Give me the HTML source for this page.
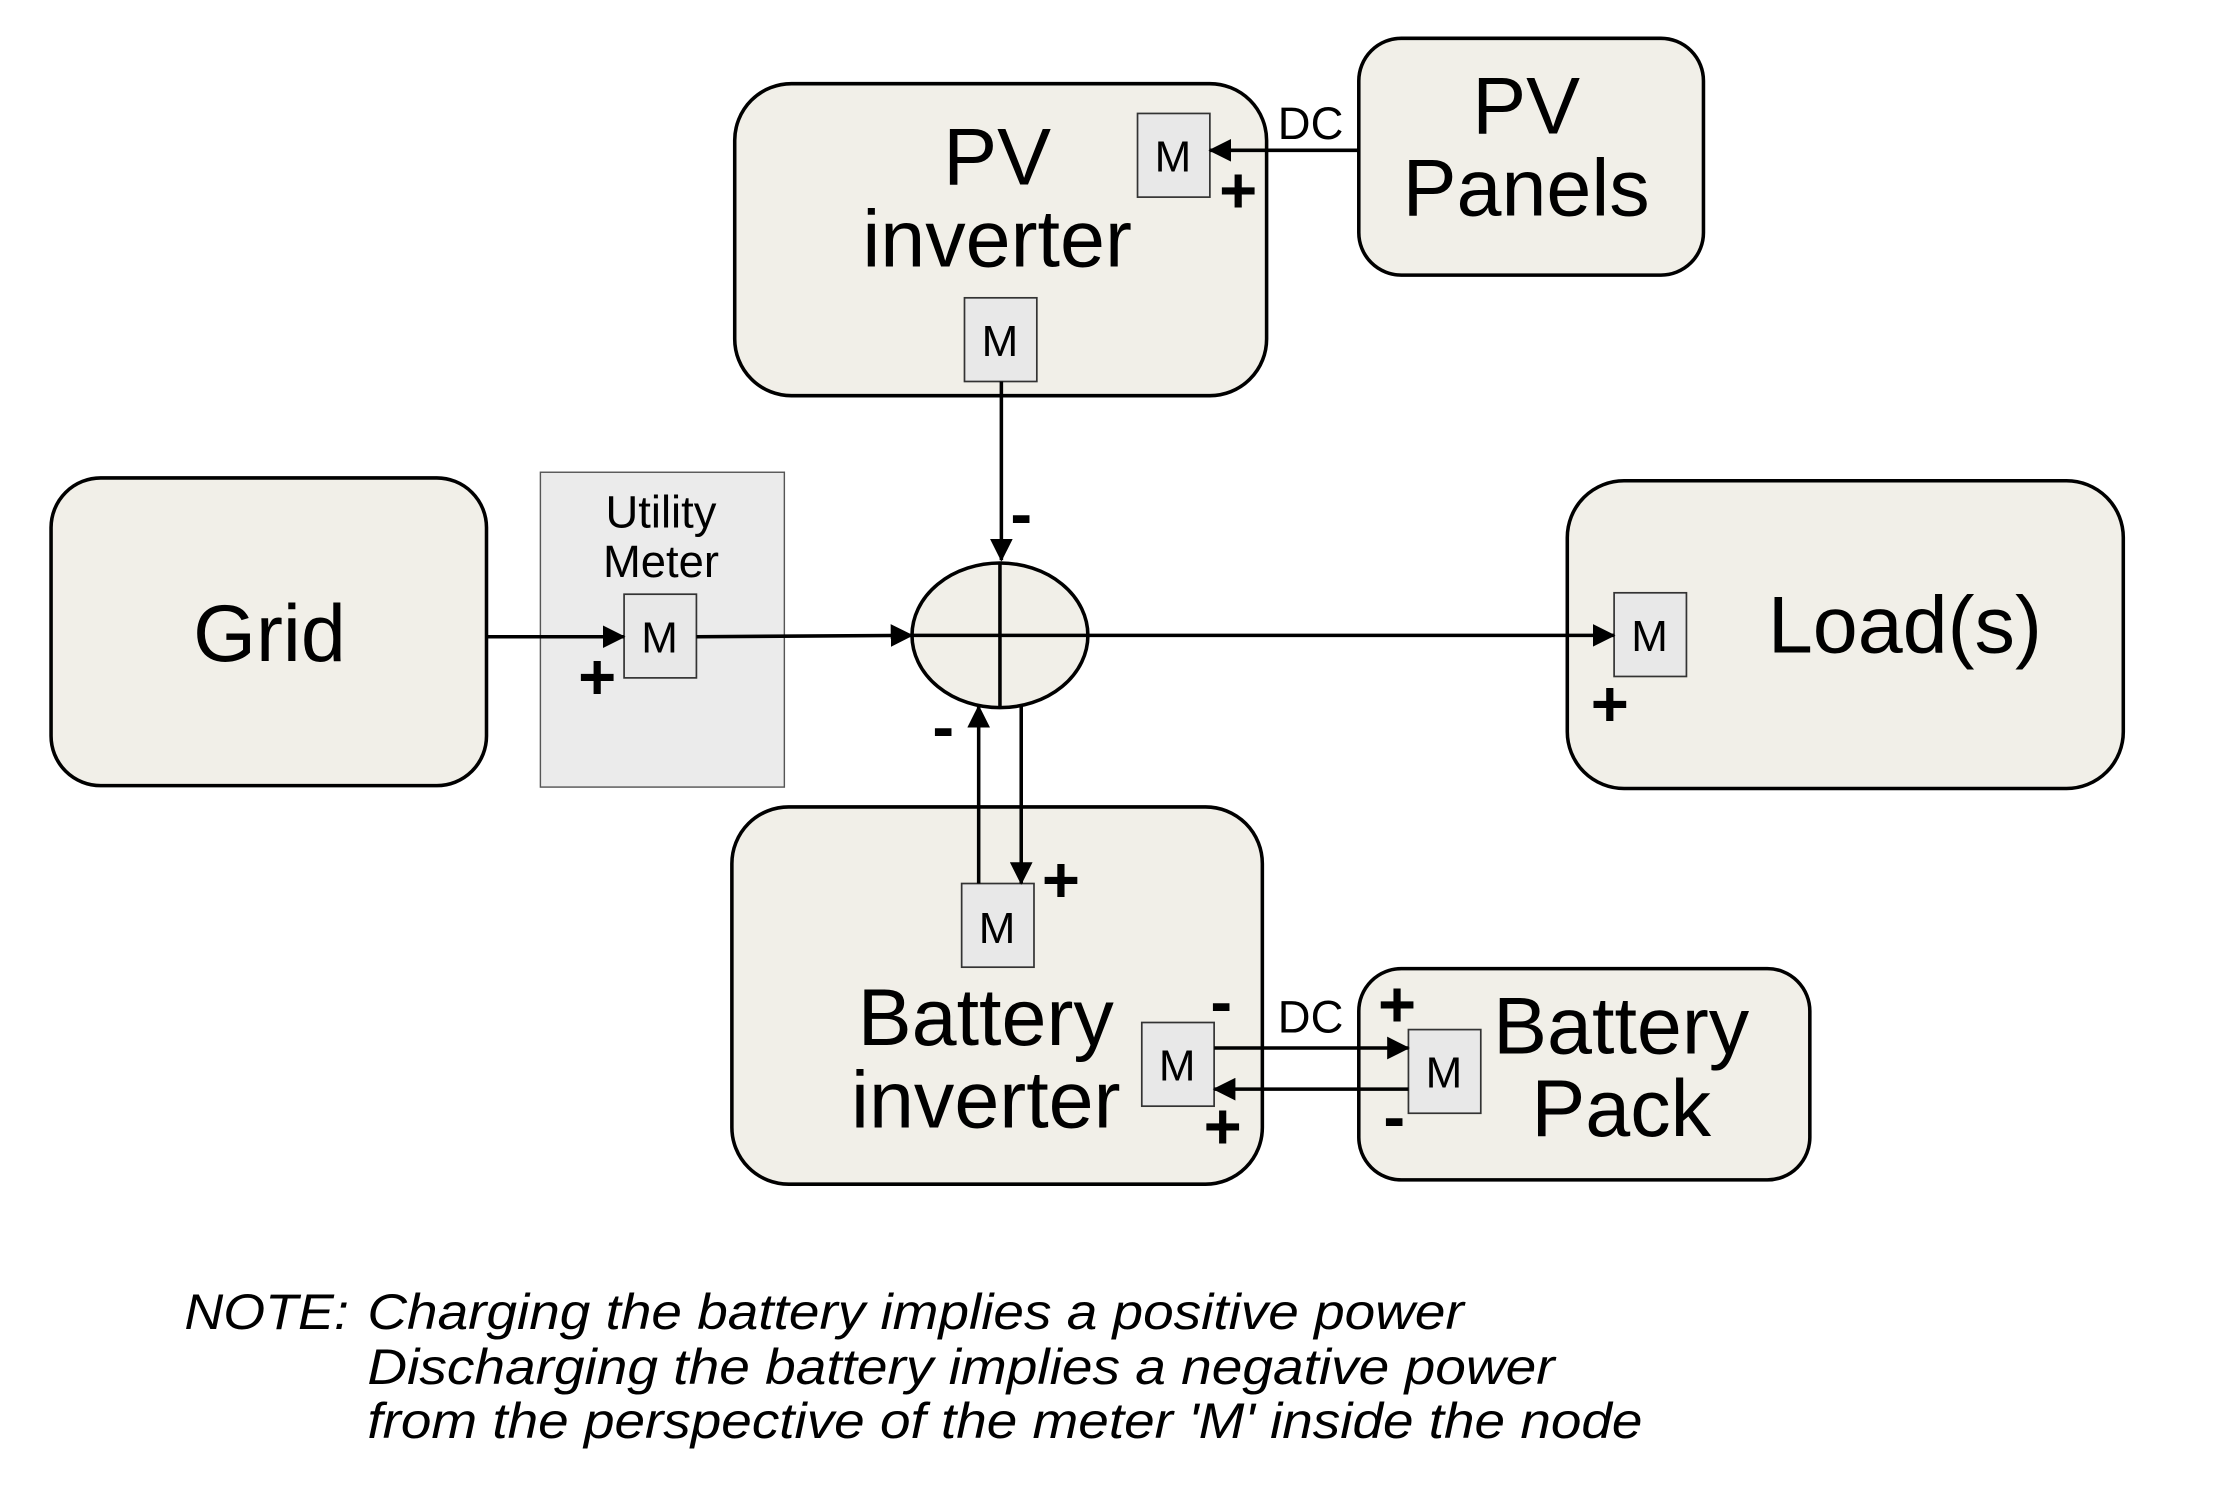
<!DOCTYPE html>
<html><head><meta charset="utf-8"><style>
html,body{margin:0;padding:0;background:#fff}
svg{display:block}
text{font-family:"Liberation Sans",Arial,sans-serif;fill:#000}
</style></head><body>
<svg width="2224" height="1499" viewBox="0 0 1568 1057" preserveAspectRatio="none" xmlns="http://www.w3.org/2000/svg">
<defs><marker id="b" markerWidth="16" markerHeight="16" refX="15" refY="8" orient="auto" markerUnits="userSpaceOnUse"><path d="M0,0 L16,8 L0,16z" fill="#000"/></marker></defs>
<g fill="#f1efe8" stroke="#000" stroke-width="2.5">
<rect x="518" y="59" width="375" height="220" rx="40"/>
<rect x="958" y="27" width="243" height="167" rx="30"/>
<rect x="36" y="337" width="307" height="217" rx="35"/>
<rect x="1105" y="339" width="392" height="217" rx="40"/>
<rect x="516" y="569" width="374" height="266" rx="40"/>
<rect x="958" y="683" width="318" height="149" rx="30"/>
</g>
<rect x="381" y="333" width="172" height="222" fill="#ebebeb" stroke="#555" stroke-width="1"/>
<g fill="#e8e8e8" stroke="#333" stroke-width="1.2">
<rect x="802" y="80" width="51" height="59"/>
<rect x="680" y="210" width="51" height="59"/>
<rect x="440" y="419" width="51" height="59"/>
<rect x="1138" y="418" width="51" height="59"/>
<rect x="678" y="623" width="51" height="59"/>
<rect x="805" y="721" width="51" height="59"/>
<rect x="993" y="726" width="51" height="59"/>
</g>
<g font-size="31" text-anchor="middle">
<text x="827" y="121">M</text><text x="705" y="251">M</text><text x="465" y="460">M</text>
<text x="1163" y="459">M</text><text x="703" y="665">M</text><text x="830" y="762">M</text><text x="1018" y="767">M</text>
</g>
<ellipse cx="705" cy="448" rx="62" ry="51" fill="#f1efe8" stroke="#000" stroke-width="2.5"/>
<g stroke="#000" stroke-width="2.5" fill="none">
<line x1="705" y1="397" x2="705" y2="499"/><line x1="643" y1="448" x2="767" y2="448"/>
<line x1="958" y1="106" x2="853" y2="106" marker-end="url(#b)"/>
<line x1="706" y1="269" x2="706" y2="395" marker-end="url(#b)"/>
<line x1="343" y1="449" x2="440" y2="449" marker-end="url(#b)"/>
<line x1="491" y1="449" x2="643" y2="448" marker-end="url(#b)"/>
<line x1="767" y1="448" x2="1138" y2="448" marker-end="url(#b)"/>
<line x1="690" y1="623" x2="690" y2="498" marker-end="url(#b)"/>
<line x1="720" y1="498" x2="720" y2="623" marker-end="url(#b)"/>
<line x1="856" y1="739" x2="993" y2="739" marker-end="url(#b)"/>
<line x1="993" y1="768" x2="856" y2="768" marker-end="url(#b)"/>
</g>
<g font-size="57" text-anchor="middle">
<text x="703" y="130">PV</text><text x="703" y="188">inverter</text>
<text x="1076" y="94">PV</text><text x="1076" y="152">Panels</text>
<text x="190" y="466">Grid</text><text x="1343" y="460">Load(s)</text>
<text x="695" y="737">Battery</text><text x="695" y="795">inverter</text>
<text x="1143" y="743">Battery</text><text x="1143" y="801">Pack</text>
</g>
<g font-size="32" text-anchor="middle"><text x="466" y="372">Utility</text><text x="466" y="407">Meter</text>
<text x="924" y="98">DC</text><text x="924" y="728">DC</text></g>
<g font-size="46" font-weight="bold" text-anchor="middle">
<text x="873" y="150">+</text><text x="720" y="378">-</text><text x="421" y="493">+</text>
<text x="1135" y="512">+</text><text x="665" y="528">-</text><text x="748" y="636">+</text>
<text x="861" y="722">-</text><text x="862" y="810">+</text><text x="985" y="724">+</text><text x="983" y="803">-</text>
</g>
<g font-size="35" font-style="italic">
<text x="130" y="937" textLength="116" lengthAdjust="spacingAndGlyphs">NOTE:</text>
<text x="259" y="937" textLength="773" lengthAdjust="spacingAndGlyphs">Charging the battery implies a positive power</text>
<text x="259" y="976" textLength="837" lengthAdjust="spacingAndGlyphs">Discharging the battery implies a negative power</text>
<text x="259" y="1014" textLength="899" lengthAdjust="spacingAndGlyphs">from the perspective of the meter 'M' inside the node</text>
</g>
</svg>
</body></html>
